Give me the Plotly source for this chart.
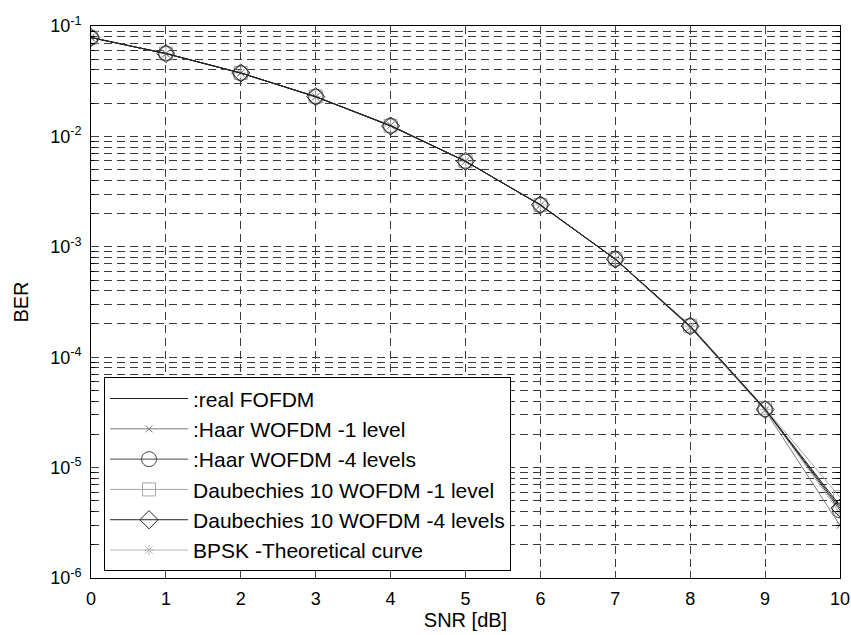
import plotly.graph_objects as go

snr = [0, 1, 2, 3, 4, 5, 6, 7, 8, 9, 10]
real_fofdm = [0.0786, 0.0563, 0.0375, 0.0229, 0.0125, 0.00595, 0.00239, 0.000773, 0.000190, 3.40e-5, 4.5e-6]
haar_1 = [0.0787, 0.0562, 0.0376, 0.0228, 0.0126, 0.00596, 0.00238, 0.000770, 0.000186, 3.30e-5, 3.0e-6]
haar_4 = [0.0785, 0.0564, 0.0374, 0.0229, 0.0125, 0.00594, 0.00240, 0.000775, 0.000192, 3.38e-5, 4.1e-6]
daub_1 = [0.0786, 0.0563, 0.0375, 0.0230, 0.0125, 0.00597, 0.00239, 0.000778, 0.000193, 3.45e-5, 5.4e-6]
daub_4 = [0.0786, 0.0563, 0.0375, 0.0229, 0.0124, 0.00595, 0.00240, 0.000772, 0.000191, 3.36e-5, 4.3e-6]
bpsk = [0.0786, 0.0563, 0.0375, 0.0229, 0.0125, 0.00595, 0.00239, 0.000773, 0.000191, 3.36e-5, 3.87e-6]

names = [":real FOFDM", ":Haar WOFDM -1 level", ":Haar WOFDM -4 levels",
         "Daubechies 10 WOFDM -1 level", "Daubechies 10 WOFDM -4 levels", "BPSK -Theoretical curve"]
series = [real_fofdm, haar_1, haar_4, daub_1, daub_4, bpsk]
colors = ["#1e1e1e", "#7a7a7a", "#4a4a4a", "#a6a6a6", "#262626", "#b8b8b8"]
symbols = [None, "x-thin-open", "circle-open", "square-open", "diamond-open", "asterisk-open"]
sizes = [0, 7, 15, 13, 14, 9]
draw_order = [3, 5, 1, 2, 0, 4]  # light curves underneath, dark on top

fig = go.Figure()
for i in draw_order:
    nm, ys = names[i], series[i]
    mk = dict(symbol=symbols[i], size=sizes[i], color=colors[i],
              line=dict(width=1, color=colors[i])) if symbols[i] else None
    fig.add_trace(go.Scatter(
        x=snr, y=ys, name=nm, legendgroup=str(i), legendrank=i + 1,
        mode="lines+markers" if symbols[i] else "lines",
        line=dict(color=colors[i], width=1),
        marker=mk,
    ))

major = [10.0 ** e for e in range(-6, 0)]
minor = [m * 10.0 ** e for e in range(-6, -1) for m in range(2, 10)]
ytext = ["10<sup>%d</sup>" % e for e in range(-6, 0)]

gridc = "#3a3a3a"
gdash = "8px,5px"
fnt = "Liberation Sans, Arial, sans-serif"

fig.update_layout(
    width=851, height=635,
    margin=dict(l=91, r=11, t=26, b=57, autoexpand=False),
    paper_bgcolor="white", plot_bgcolor="white",
    font=dict(family=fnt, size=18, color="black"),
    showlegend=True,
    legend=dict(x=0.0174, y=0.012, xanchor="left", yanchor="bottom",
                bgcolor="white", bordercolor="black", borderwidth=1,
                font=dict(family=fnt, size=21, color="black"),
                itemwidth=78, tracegroupgap=0, traceorder="grouped"),
    xaxis=dict(range=[0, 10], tickvals=snr, ticks="inside", ticklen=7,
               tickfont=dict(family=fnt, size=18), ticklabelstandoff=4,
               showline=True, linecolor="black", linewidth=1, mirror="ticks",
               showgrid=True, gridcolor=gridc, griddash=gdash, gridwidth=1,
               zeroline=False, automargin=False,
               title=dict(text="SNR [dB]", font=dict(family=fnt, size=20), standoff=5)),
    yaxis=dict(type="log", range=[-6, -1], tickvals=major, ticktext=ytext,
               ticks="inside", ticklen=7,
               tickfont=dict(family=fnt, size=18), ticklabelstandoff=5,
               showline=True, linecolor="black", linewidth=1, mirror="ticks",
               showgrid=True, gridcolor=gridc, griddash=gdash, gridwidth=1,
               minor=dict(tickvals=minor, ticks="inside", ticklen=4, tickcolor="black",
                          showgrid=True, gridcolor=gridc, griddash=gdash, gridwidth=1),
               zeroline=False, automargin=False,
               title=dict(text="BER", font=dict(family=fnt, size=20), standoff=16)),
)

fig.write_html("out.html")
